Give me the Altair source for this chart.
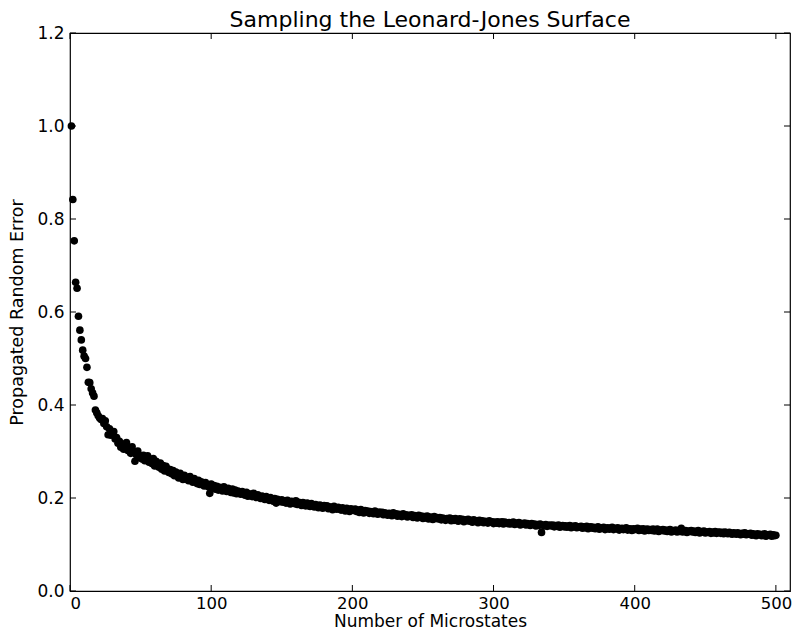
import altair as alt
import pandas as pd

# Propagated random error for microstate counts 1..500
err_001_100 = [
    1.000, 0.842, 0.753, 0.664, 0.651, 0.591, 0.561, 0.540, 0.518, 0.505,
    0.500, 0.481, 0.449, 0.448, 0.435, 0.426, 0.419, 0.389, 0.383, 0.377,
    0.372, 0.369, 0.371, 0.360, 0.366, 0.353, 0.336, 0.349, 0.335, 0.341,
    0.343, 0.327, 0.330, 0.318, 0.322, 0.309, 0.316, 0.305, 0.311, 0.319,
    0.302, 0.308, 0.296, 0.310, 0.299, 0.279, 0.293, 0.301, 0.287, 0.290,
    0.284, 0.292, 0.280, 0.286, 0.291, 0.277, 0.282, 0.274, 0.285, 0.269,
    0.279, 0.271, 0.266, 0.275, 0.262, 0.270, 0.258, 0.268, 0.263, 0.255,
    0.261, 0.252, 0.259, 0.248, 0.256, 0.250, 0.243, 0.253, 0.246, 0.240,
    0.249, 0.241, 0.244, 0.237, 0.246, 0.239, 0.234, 0.242, 0.236, 0.231,
    0.238, 0.229, 0.235, 0.232, 0.226, 0.233, 0.228, 0.224, 0.210, 0.230,
]
err_101_200 = [
    0.222, 0.227, 0.219, 0.225, 0.217, 0.223, 0.220, 0.215, 0.224, 0.218,
    0.214, 0.221, 0.216, 0.212, 0.219, 0.211, 0.217, 0.209, 0.215, 0.213,
    0.208, 0.214, 0.210, 0.206, 0.212, 0.204, 0.209, 0.207, 0.203, 0.210,
    0.205, 0.201, 0.207, 0.202, 0.199, 0.204, 0.200, 0.197, 0.203, 0.198,
    0.195, 0.201, 0.196, 0.193, 0.199, 0.189, 0.197, 0.194, 0.192, 0.196,
    0.191, 0.194, 0.189, 0.195, 0.192, 0.187, 0.193, 0.190, 0.188, 0.194,
    0.186, 0.191, 0.188, 0.184, 0.190, 0.187, 0.183, 0.189, 0.185, 0.182,
    0.188, 0.184, 0.181, 0.186, 0.183, 0.179, 0.185, 0.182, 0.178, 0.184,
    0.180, 0.183, 0.177, 0.181, 0.179, 0.175, 0.182, 0.178, 0.176, 0.180,
    0.177, 0.174, 0.179, 0.176, 0.172, 0.178, 0.175, 0.171, 0.177, 0.174,
]
err_201_300 = [
    0.173, 0.176, 0.171, 0.174, 0.169, 0.175, 0.172, 0.168, 0.173, 0.170,
    0.172, 0.167, 0.171, 0.169, 0.166, 0.172, 0.168, 0.165, 0.170, 0.167,
    0.169, 0.164, 0.168, 0.166, 0.163, 0.167, 0.165, 0.162, 0.168, 0.164,
    0.166, 0.161, 0.165, 0.163, 0.160, 0.166, 0.162, 0.164, 0.159, 0.163,
    0.161, 0.164, 0.158, 0.162, 0.160, 0.157, 0.163, 0.159, 0.161, 0.156,
    0.160, 0.157, 0.161, 0.155, 0.159, 0.158, 0.154, 0.160, 0.156, 0.158,
    0.155, 0.158, 0.153, 0.157, 0.155, 0.152, 0.156, 0.154, 0.157, 0.151,
    0.155, 0.152, 0.156, 0.153, 0.150, 0.155, 0.152, 0.154, 0.149, 0.153,
    0.151, 0.154, 0.150, 0.152, 0.148, 0.153, 0.150, 0.151, 0.147, 0.152,
    0.149, 0.151, 0.147, 0.150, 0.148, 0.146, 0.151, 0.148, 0.149, 0.145,
]
err_301_400 = [
    0.148, 0.146, 0.149, 0.145, 0.147, 0.149, 0.144, 0.148, 0.146, 0.145,
    0.147, 0.144, 0.146, 0.148, 0.143, 0.146, 0.145, 0.147, 0.142, 0.145,
    0.144, 0.146, 0.142, 0.145, 0.143, 0.141, 0.145, 0.143, 0.144, 0.140,
    0.143, 0.141, 0.144, 0.126, 0.142, 0.140, 0.143, 0.139, 0.141, 0.142,
    0.140, 0.142, 0.138, 0.141, 0.139, 0.142, 0.137, 0.140, 0.141, 0.138,
    0.140, 0.137, 0.139, 0.141, 0.136, 0.139, 0.138, 0.140, 0.136, 0.138,
    0.137, 0.139, 0.135, 0.138, 0.136, 0.139, 0.134, 0.137, 0.138, 0.135,
    0.137, 0.134, 0.136, 0.138, 0.133, 0.136, 0.135, 0.137, 0.132, 0.135,
    0.136, 0.133, 0.135, 0.137, 0.132, 0.135, 0.134, 0.136, 0.131, 0.134,
    0.135, 0.132, 0.134, 0.136, 0.131, 0.134, 0.133, 0.130, 0.134, 0.132,
]
err_401_500 = [
    0.133, 0.135, 0.130, 0.133, 0.131, 0.134, 0.129, 0.132, 0.133, 0.130,
    0.132, 0.130, 0.133, 0.129, 0.131, 0.133, 0.128, 0.131, 0.130, 0.132,
    0.129, 0.131, 0.128, 0.130, 0.132, 0.127, 0.130, 0.129, 0.131, 0.127,
    0.130, 0.128, 0.135, 0.127, 0.129, 0.130, 0.126, 0.129, 0.128, 0.130,
    0.127, 0.129, 0.126, 0.128, 0.130, 0.125, 0.128, 0.127, 0.129, 0.125,
    0.127, 0.126, 0.128, 0.124, 0.127, 0.125, 0.128, 0.124, 0.126, 0.127,
    0.124, 0.126, 0.123, 0.127, 0.125, 0.123, 0.126, 0.124, 0.122, 0.125,
    0.124, 0.122, 0.125, 0.123, 0.121, 0.124, 0.122, 0.125, 0.121, 0.123,
    0.122, 0.124, 0.120, 0.123, 0.121, 0.119, 0.123, 0.121, 0.122, 0.119,
    0.121, 0.123, 0.118, 0.121, 0.120, 0.122, 0.118, 0.121, 0.119, 0.120,
]

errors = err_001_100 + err_101_200 + err_201_300 + err_301_400 + err_401_500
microstates = list(range(1, len(errors) + 1))

x_ticks = [0, 100, 200, 300, 400, 500]
y_ticks = [0.0, 0.2, 0.4, 0.6, 0.8, 1.0, 1.2]

W, H = 720, 558
FONT = "DejaVu Sans"
TL = 6  # inward tick length

df = pd.DataFrame({"n": microstates, "err": errors})
xt = pd.DataFrame({"n": x_ticks})
yt = pd.DataFrame({"err": y_ticks})

xscale = alt.Scale(domain=[0, 510], nice=False, zero=False)
yscale = alt.Scale(domain=[0, 1.2], nice=False)

xaxis = alt.Axis(values=x_ticks, format="d", grid=False, tickSize=0,
                 labelPadding=4, titlePadding=2, domain=False,
                 labelFont=FONT, titleFont=FONT, labelFontSize=16.5, titleFontSize=17,
                 labelColor="black", titleColor="black", titleFontWeight="normal")
yaxis = alt.Axis(values=y_ticks, format=".1f", grid=False, tickSize=0,
                 labelPadding=6, titlePadding=10, domain=False,
                 labelFont=FONT, titleFont=FONT, labelFontSize=17, titleFontSize=17.5,
                 labelColor="black", titleColor="black", titleFontWeight="normal")

points = alt.Chart(df).mark_circle(size=58, color="black", opacity=1).encode(
    x=alt.X("n:Q", scale=xscale, title="Number of Microstates", axis=xaxis),
    y=alt.Y("err:Q", scale=yscale, title="Propagated Random Error", axis=yaxis),
)

x_bot = alt.Chart(xt).mark_rule(color="black", strokeWidth=1).encode(
    x=alt.X("n:Q", scale=xscale, title="Number of Microstates", axis=xaxis),
    y=alt.value(H), y2=alt.value(H - TL))
x_top = alt.Chart(xt).mark_rule(color="black", strokeWidth=1).encode(
    x=alt.X("n:Q", scale=xscale, title="Number of Microstates", axis=xaxis),
    y=alt.value(0), y2=alt.value(TL))
y_left = alt.Chart(yt).mark_rule(color="black", strokeWidth=1).encode(
    y=alt.Y("err:Q", scale=yscale, title="Propagated Random Error", axis=yaxis),
    x=alt.value(0), x2=alt.value(TL))
y_right = alt.Chart(yt).mark_rule(color="black", strokeWidth=1).encode(
    y=alt.Y("err:Q", scale=yscale, title="Propagated Random Error", axis=yaxis),
    x=alt.value(W), x2=alt.value(W - TL))

chart = alt.layer(points, x_bot, x_top, y_left, y_right).properties(
    width=W, height=H,
    background="white",
    title=alt.TitleParams("Sampling the Leonard-Jones Surface", fontSize=22,
                          font=FONT, fontWeight="normal", color="black",
                          anchor="middle", offset=-8),
    autosize=alt.AutoSizeParams(type="none"),
    padding={"left": 62, "top": 25, "right": 2, "bottom": 39},
).configure_view(
    stroke="black", strokeWidth=1.2
)

chart.save("out.html", embed_options={"renderer": "svg", "actions": False})
